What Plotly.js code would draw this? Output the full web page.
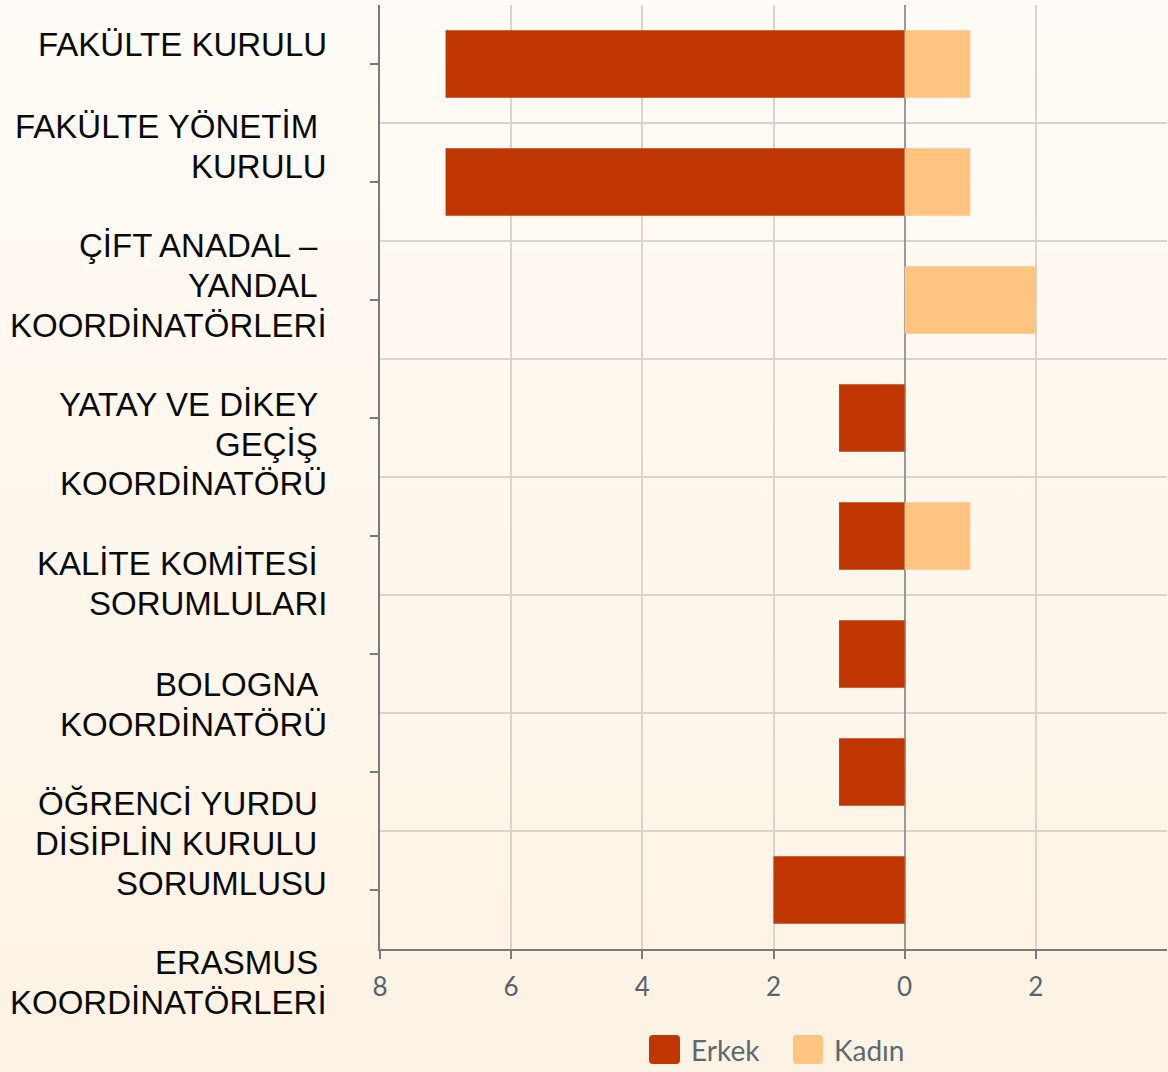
<!DOCTYPE html>
<html>
<head>
<meta charset="utf-8">
<script src="https://cdn.plot.ly/plotly-3.0.1.min.js"></script>
<style>
  html, body { margin: 0; padding: 0; }
  body { width: 1168px; height: 1072px; background: linear-gradient(180deg, #fffbf6 0%, #fdf3e4 100%); }
  #chart { width: 1168px; height: 1072px; }
</style>
</head>
<body>
<div id="chart"></div>
<script>
// ---- data ----
const categories = [
  "FAKÜLTE KURULU",
  "FAKÜLTE YÖNETİM KURULU",
  "ÇİFT ANADAL – YANDAL KOORDİNATÖRLERİ",
  "YATAY VE DİKEY GEÇİŞ KOORDİNATÖRÜ",
  "KALİTE KOMİTESİ SORUMLULARI",
  "BOLOGNA KOORDİNATÖRÜ",
  "ÖĞRENCİ YURDU DİSİPLİN KURULU SORUMLUSU",
  "ERASMUS KOORDİNATÖRLERİ"
];
const labelLines = [
  ["FAKÜLTE KURULU"],
  ["FAKÜLTE YÖNETİM ", "KURULU"],
  ["ÇİFT ANADAL – ", "YANDAL ", "KOORDİNATÖRLERİ"],
  ["YATAY VE DİKEY ", "GEÇİŞ ", "KOORDİNATÖRÜ"],
  ["KALİTE KOMİTESİ ", "SORUMLULARI"],
  ["BOLOGNA ", "KOORDİNATÖRÜ"],
  ["ÖĞRENCİ YURDU ", "DİSİPLİN KURULU ", "SORUMLUSU"],
  ["ERASMUS ", "KOORDİNATÖRLERİ"]
];
const seriesNames = ["Erkek", "Kadın"];
const erkek = [7, 7, 0, 1, 1, 1, 1, 2];
const kadin = [1, 1, 2, 0, 1, 0, 0, 0];
const xTickVals = [-8, -6, -4, -2, 0, 2];
const xTickText = ["8", "6", "4", "2", "0", "2"];

// ---- layout helpers (pixel geometry of the page) ----
const W = 1168, H = 1072;
const M = {l: 380, r: 1, t: 5, b: 123};
const plotW = W - M.l - M.r, plotH = H - M.t - M.b;
const px2paperX = px => (px - M.l) / plotW;
const px2paperY = py => (H - M.b - py) / plotH;

// first-line vertical centres of the category labels (as placed in the original)
const labelFirstLineY = [44.5, 126, 245.5, 404, 563.5, 684, 803.5, 962.5];
const lineStep = 40;
const labelRightX = 328;

const colors = ["#bf3600", "#ffc382"];

const traces = [
  {
    type: "bar", orientation: "h", name: seriesNames[0],
    y: categories, x: erkek.map(v => -v),
    customdata: erkek,
    hovertemplate: "%{y}<br>" + seriesNames[0] + ": %{customdata}<extra></extra>",
    marker: {color: colors[0], line: {width: 0}}
  },
  {
    type: "bar", orientation: "h", name: seriesNames[1],
    y: categories, x: kadin,
    hovertemplate: "%{y}<br>" + seriesNames[1] + ": %{x}<extra></extra>",
    marker: {color: colors[1], line: {width: 0}}
  },
  {
    // empty helper trace so the boundary-grid axis (yaxis2) is drawn
    type: "scatter", mode: "markers", x: [], y: [], yaxis: "y2",
    showlegend: false, hoverinfo: "skip"
  }
];

const annotations = [];
labelLines.forEach((lines, i) => {
  lines.forEach((ln, j) => {
    annotations.push({
      xref: "paper", yref: "paper",
      x: px2paperX(labelRightX), y: px2paperY(labelFirstLineY[i] + j * lineStep),
      xanchor: "right", yanchor: "middle",
      text: ln.replace(/ $/, "\u00a0"),
      showarrow: false, borderpad: 0,
      font: {family: "'Liberation Sans', Arial, sans-serif", size: 33, color: "#0a0a0a"}
    });
  });
});

// custom legend (large rounded swatches, as in the original)
const shapes = [];
const legendItems = [
  {sx0: 649, sx1: 680, tx: 690},
  {sx0: 793, sx1: 823, tx: 833}
];
const legY0 = 1035, legY1 = 1064;
legendItems.forEach((it, k) => {
  const r = 4;
  const x0 = it.sx0, x1 = it.sx1, y0 = legY0, y1 = legY1;
  const X = px2paperX, Y = px2paperY;
  const path = `M ${X(x0 + r)} ${Y(y0)} L ${X(x1 - r)} ${Y(y0)} Q ${X(x1)} ${Y(y0)} ${X(x1)} ${Y(y0 + r)} ` +
               `L ${X(x1)} ${Y(y1 - r)} Q ${X(x1)} ${Y(y1)} ${X(x1 - r)} ${Y(y1)} ` +
               `L ${X(x0 + r)} ${Y(y1)} Q ${X(x0)} ${Y(y1)} ${X(x0)} ${Y(y1 - r)} ` +
               `L ${X(x0)} ${Y(y0 + r)} Q ${X(x0)} ${Y(y0)} ${X(x0 + r)} ${Y(y0)} Z`;
  shapes.push({type: "path", xref: "paper", yref: "paper", path: path,
               fillcolor: colors[k], line: {width: 0}, layer: "above"});
  annotations.push({
    xref: "paper", yref: "paper", x: px2paperX(it.tx), y: px2paperY((legY0 + legY1) / 2),
    xanchor: "left", yanchor: "middle", text: seriesNames[k], showarrow: false, borderpad: 0,
    font: {family: "Lato, sans-serif", size: 28, color: "#5f6870"}
  });
});

const axisGrey = "#7a7a7a";
const gridGrey = "#d9d5cd";

const layout = {
  width: W, height: H,
  margin: M,
  paper_bgcolor: "rgba(0,0,0,0)",
  plot_bgcolor: "rgba(0,0,0,0)",
  barmode: "relative",
  bargap: 0.43,
  showlegend: false,
  font: {family: "Lato, sans-serif"},
  xaxis: {
    range: [-8, 4],
    tickvals: xTickVals, ticktext: xTickText,
    ticks: "outside", ticklen: 8, tickwidth: 2, tickcolor: axisGrey,
    ticklabelstandoff: 6,
    tickfont: {family: "Lato, sans-serif", size: 26, color: "#59636c"},
    showline: true, linecolor: axisGrey, linewidth: 2,
    showgrid: true, gridcolor: gridGrey, gridwidth: 1.5,
    zeroline: true, zerolinecolor: "#9a9a9a", zerolinewidth: 1.5,
    fixedrange: true
  },
  yaxis: {
    type: "category",
    categoryorder: "array", categoryarray: categories,
    autorange: "reversed",
    showticklabels: false,
    ticks: "outside", ticklen: 8, tickwidth: 2, tickcolor: axisGrey,
    showline: true, linecolor: axisGrey, linewidth: 2,
    showgrid: false, zeroline: false,
    fixedrange: true
  },
  yaxis2: {
    overlaying: "y", anchor: "x", side: "left",
    type: "linear",
    range: [categories.length - 0.5, -0.5],
    autorange: false,
    tickvals: categories.slice(1).map((_, i) => i + 0.5),
    showticklabels: false, ticks: "",
    showgrid: true, gridcolor: gridGrey, gridwidth: 1.5,
    zeroline: false, showline: false,
    fixedrange: true
  },
  annotations: annotations,
  shapes: shapes
};

Plotly.newPlot("chart", traces, layout, {displayModeBar: false});
</script>
</body>
</html>
